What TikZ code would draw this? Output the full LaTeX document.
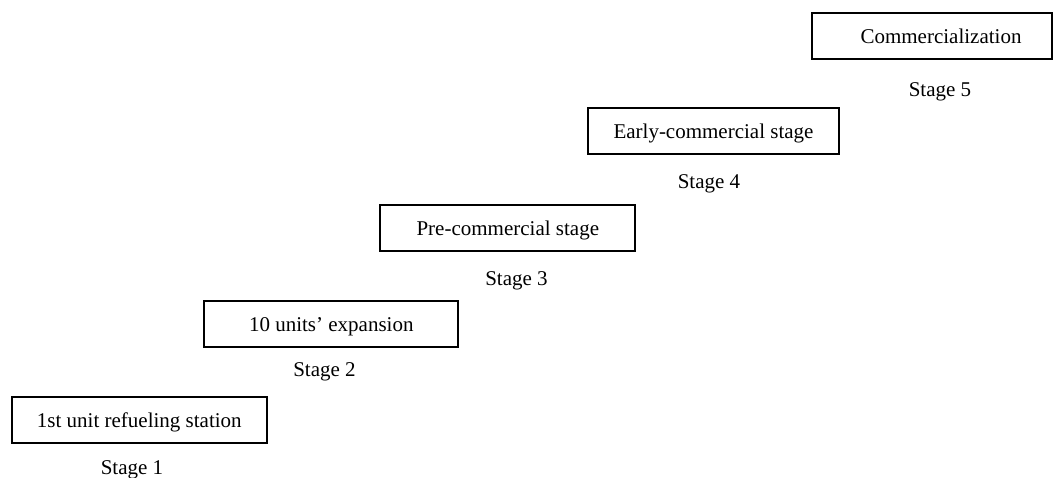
\documentclass[tikz,border=0pt]{standalone}
\usepackage{fontspec}
\setmainfont{Liberation Serif}
\begin{document}
\begin{tikzpicture}[x=1pt,y=-1pt,
  stagebox/.style={draw=black, line width=2pt, inner sep=0pt, minimum height=46pt,
    text height=15pt, text depth=0pt, font=\fontsize{21}{25}\selectfont},
  stagelbl/.style={anchor=base, inner sep=0pt, font=\fontsize{21}{25}\selectfont}]
\useasboundingbox (0,0) rectangle (1055,477);
\node[stagebox, minimum width=255pt] (b1) at (139.3,420) {1st unit refueling station};
\node[stagebox, minimum width=254pt] (b2) at (331.3,324.2) {10 units’ expansion};
\node[stagebox, minimum width=255pt] (b3) at (507.8,227.8) {Pre-commercial stage};
\node[stagebox, minimum width=251pt] (b4) at (713.5,131.2) {Early-commercial stage};
\node[stagebox, minimum width=240pt] (b5) at (932,35.8) {};
\node[stagebox, draw=none, minimum width=0pt] (t5) at (941,35.8) {Commercialization};
\node[stagelbl] (s1) at (132,474) {Stage 1};
\node[stagelbl] (s2) at (324.5,376) {Stage 2};
\node[stagelbl] (s3) at (516.5,285) {Stage 3};
\node[stagelbl] (s4) at (709,188.3) {Stage 4};
\node[stagelbl] (s5) at (940,96) {Stage 5};
\end{tikzpicture}
\end{document}
